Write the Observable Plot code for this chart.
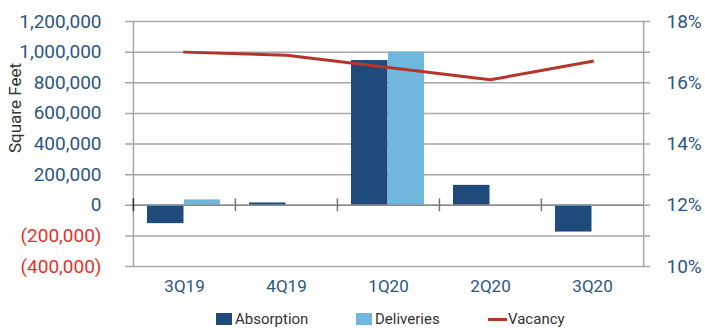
<!DOCTYPE html>
<html>
<head>
<meta charset="utf-8">
<script src="https://cdn.jsdelivr.net/npm/d3@7"></script>
<script src="https://cdn.jsdelivr.net/npm/@observablehq/plot@0.6"></script>
<style>
  body { margin: 0; background: #fff; font-family: Roboto, "Noto Sans", sans-serif; }
  #wrap { position: relative; width: 705px; height: 328px; }
  .leg { position: absolute; top: 309px; font-size: 15px; color: #333; display: flex; align-items: center; height: 20px; }
  .sw { width: 16px; height: 12px; margin-right: 3px; }
  .ln { width: 19px; height: 3px; background: #b5352c; margin-right: 1px; }
</style>
</head>
<body>
<div id="wrap"></div>
<script>
const quarters = ["3Q19", "4Q19", "1Q20", "2Q20", "3Q20"];
const absorption = [-120000, 15000, 945000, 130000, -175000];
const deliveries = [35000, 0, 1000000, 0, 0];
const vacancy = [17.0, 16.9, 16.5, 16.1, 16.7];
const leftTicks = [-400000, -200000, 0, 200000, 400000, 600000, 800000, 1000000, 1200000];
const rightTicks = [10, 12, 14, 16, 18];

const toY = v => (v - 12) * 200000; // map vacancy % onto the left scale
const fmt = d3.format(",");
const lbl = d => d < 0 ? `(${fmt(-d)})` : fmt(d);

const absData = quarters.map((q, i) => ({q, v: absorption[i]}));
const delData = quarters.map((q, i) => ({q, v: deliveries[i]})).filter(d => d.v !== 0);
const vacData = quarters.map((q, i) => ({q, v: toY(vacancy[i])}));

const gridColor = "#a6a6a6";
const blue = "#2d5585";
const red = "#e8302c";

const chart = Plot.plot({
  width: 705,
  height: 300,
  marginLeft: 132,
  marginRight: 62,
  marginTop: 21,
  marginBottom: 34,
  style: {fontFamily: "Roboto, 'Noto Sans', sans-serif", background: "#fff", overflow: "visible"},
  x: {domain: quarters, padding: 0, axis: null},
  y: {domain: [-400000, 1200000], axis: null},
  marks: [
    Plot.ruleY(leftTicks, {stroke: gridColor, strokeWidth: 1.5, insetLeft: -7, insetRight: -7}),
    Plot.ruleX([quarters[0]], {y1: -400000, y2: 1200000, stroke: gridColor, strokeWidth: 1.5, dx: -51.1}),
    Plot.ruleX([quarters[4]], {y1: -400000, y2: 1200000, stroke: gridColor, strokeWidth: 1.5, dx: 51.1}),
    Plot.barY(absData, {x: "q", y: "v", fill: "#1f4a7c", insetLeft: 14, insetRight: 51.5}),
    Plot.barY(delData, {x: "q", y: "v", fill: "#6fb7dc", insetLeft: 51, insetRight: 15}),
    Plot.ruleY([0], {stroke: "#8a8a8a", strokeWidth: 1.5}),
    Plot.ruleX(quarters.slice(1), {y1: -42000, y2: 42000, stroke: "#777", strokeWidth: 1.5, dx: -51.1}),
    Plot.ruleX([quarters[0]], {y1: -42000, y2: 42000, stroke: "#333", strokeWidth: 1.5, dx: -51.1}),
    Plot.lineY(vacData, {x: "q", y: "v", stroke: "#b5352c", strokeWidth: 3}),
    Plot.axisY(leftTicks.filter(d => d >= 0), {anchor: "left", label: null, tickSize: 0, tickPadding: 31, tickFormat: lbl, fill: blue, fontSize: 19}),
    Plot.axisY(leftTicks.filter(d => d < 0), {anchor: "left", label: null, tickSize: 0, tickPadding: 31, tickFormat: lbl, fill: red, fontSize: 19}),
    Plot.axisY(rightTicks.map(toY), {anchor: "right", label: null, tickSize: 0, tickPadding: 23, tickFormat: d => `${d / 200000 + 12}%`, fill: blue, fontSize: 19}),
    Plot.axisX(quarters, {anchor: "bottom", label: null, tickSize: 0, tickPadding: 13, fill: blue, fontSize: 17}),
    Plot.text(["Square Feet"], {frameAnchor: "left", textAnchor: "middle", rotate: -90, dx: -117, dy: -36, fontSize: 17, fill: "#333"})
  ]
});
const wrap = document.getElementById("wrap");
wrap.appendChild(chart);

const legend = [
  {name: "Absorption", left: 216, type: "sw", color: "#1f4a7c"},
  {name: "Deliveries", left: 356, type: "sw", color: "#6fb7dc"},
  {name: "Vacancy", left: 488, type: "ln", color: "#b5352c"}
];
for (const it of legend) {
  const d = document.createElement("div");
  d.className = "leg";
  d.style.left = it.left + "px";
  const s = document.createElement("span");
  s.className = it.type;
  s.style.background = it.color;
  d.appendChild(s);
  d.appendChild(document.createTextNode(it.name));
  wrap.appendChild(d);
}
</script>
</body>
</html>
